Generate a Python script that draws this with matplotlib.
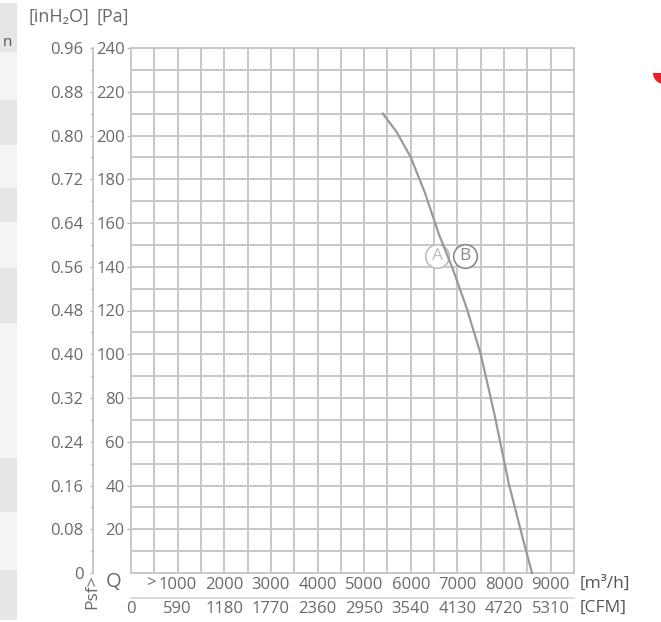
import matplotlib
matplotlib.use("Agg")
import matplotlib.pyplot as plt
from matplotlib.patches import Rectangle, Wedge

plt.rcParams['font.family'] = ['Open Sans', 'DejaVu Sans']

# curve: flow [m3/h] vs static pressure [Pa]
q_m3h = [5400, 5700, 6000, 6300, 6600, 6900, 7200, 7500, 7800, 8100, 8400, 8600]
p_pa = [210, 201.5, 190, 174, 155, 139, 121, 100, 72, 41, 16, 0]

# axis labels
q_ticks = [1000, 2000, 3000, 4000, 5000, 6000, 7000, 8000, 9000]
cfm_ticks = [0, 590, 1180, 1770, 2360, 2950, 3540, 4130, 4720, 5310]
pa_ticks = [20, 40, 60, 80, 100, 120, 140, 160, 180, 200, 220, 240]
inh2o_ticks = [0, 0.08, 0.16, 0.24, 0.32, 0.40, 0.48, 0.56, 0.64, 0.72, 0.80, 0.88, 0.96]

# operating point markers
marks = ['A', 'B']
mark_q = [6570, 7170]
mark_p = [145, 145]

W, H = 661, 622
txt = '#6a6a6a'
gridc = '#c8c8c8'
fs = 12

fig = plt.figure(figsize=(W / 100, H / 100), dpi=100)

# background layer in pixel coordinates (table fragment on the left, red logo bit)
bg = fig.add_axes([0, 0, 1, 1])
bg.set_xlim(0, W)
bg.set_ylim(H, 0)
bg.axis('off')
dark_rows = [(3, 52), (100, 145), (188, 222), (268, 323), (458, 512), (570, 620)]
light_rows = [(52, 100), (145, 188), (222, 268), (323, 458), (512, 570)]
for y0, y1 in dark_rows:
    bg.add_patch(Rectangle((0, y0), 17, y1 - y0, color='#e6e6e8', lw=0))
for y0, y1 in light_rows:
    bg.add_patch(Rectangle((0, y0), 17, y1 - y0, color='#f4f4f5', lw=0))
bg.text(3, 42, 'n', fontsize=11, color='#555555', ha='left', va='center')
bg.add_patch(Wedge((664, 73), 11, 0, 180, color='#e8202a', lw=0))


def px(x, y):
    return x / W, 1 - y / H


# main chart
left, right, top, bottom = 131, 574, 48, 573
ax = fig.add_axes([left / W, 1 - bottom / H, (right - left) / W, (bottom - top) / H])
ax.set_xlim(0, 9500)
ax.set_ylim(0, 240)
ax.set_xticks(q_ticks)
ax.set_xticklabels([str(v) for v in q_ticks])
ax.set_xticks(range(0, 9501, 500), minor=True)
ax.set_yticks(pa_ticks)
ax.set_yticklabels([str(v) for v in pa_ticks])
ax.set_yticks(range(0, 241, 10), minor=True)
ax.grid(True, which='both', color=gridc, lw=1.4)
ax.set_axisbelow(True)
for s in ax.spines.values():
    s.set_color(gridc)
    s.set_linewidth(1.4)
ax.tick_params(axis='x', which='both', length=0, pad=3, labelsize=fs, colors=txt)
ax.tick_params(axis='y', which='major', length=3, width=1, color='#b5b5b5',
               pad=1.5, labelsize=fs, labelcolor=txt)
ax.tick_params(axis='y', which='minor', length=0)

ax.plot(q_m3h, p_pa, color='#9a9a9a', lw=1.6, zorder=4, clip_on=False)

ring = ['#bdbdbd', '#8a8a8a']
for i, m in enumerate(marks):
    ax.plot(mark_q[i], mark_p[i], 'o', ms=17, mfc='white', mec=ring[i], mew=1.2, zorder=3)
    ax.text(mark_q[i], mark_p[i], m, color=ring[i], fontsize=12.5, ha='center', va='center', zorder=5)

# inH2O scale on the far left
sec_y = ax.secondary_yaxis(-0.0858, functions=(lambda p: p * 0.004, lambda v: v / 0.004))
sec_y.set_yticks(inh2o_ticks)
sec_y.set_yticklabels(['0' if v == 0 else '%.2f' % v for v in inh2o_ticks])
sec_y.set_yticks([v + 0.04 for v in inh2o_ticks[:-1]], minor=True)
sec_y.spines['left'].set_color('#bdbdbd')
sec_y.spines['left'].set_linewidth(1.2)
sec_y.tick_params(which='major', length=2, width=1, color='#bdbdbd', pad=5,
                  labelsize=fs, labelcolor=txt)
sec_y.tick_params(which='minor', length=2, width=1, color='#cfcfcf')

# CFM scale under the m3/h labels
sec_x = ax.secondary_xaxis(-0.0476, functions=(lambda q: q * 0.59, lambda c: c / 0.59))
sec_x.set_xticks(cfm_ticks)
sec_x.set_xticklabels([str(v) for v in cfm_ticks])
sec_x.spines['bottom'].set_color('#d5d5d5')
sec_x.spines['bottom'].set_linewidth(1.2)
sec_x.tick_params(length=0, pad=2, labelsize=fs, colors=txt)

# unit texts
fig.text(*px(28, 17), '[inH₂O]', fontsize=13, color=txt, ha='left', va='center')
fig.text(*px(96, 17), '[Pa]', fontsize=13, color=txt, ha='left', va='center')
fig.text(*px(580, 584), '[m³/h]', fontsize=12.5, color='#555555', ha='left', va='center')
fig.text(*px(580, 608), '[CFM]', fontsize=12.5, color='#555555', ha='left', va='center')
fig.text(*px(114, 582), 'Q', fontsize=14.5, color=txt, ha='center', va='center')
fig.text(*px(151, 583), '>', fontsize=fs, color=txt, ha='center', va='center')
fig.text(*px(92, 592), 'Psf>', fontsize=12.5, color=txt, ha='center', va='center', rotation=90)

fig.savefig('out.png', dpi=100)
